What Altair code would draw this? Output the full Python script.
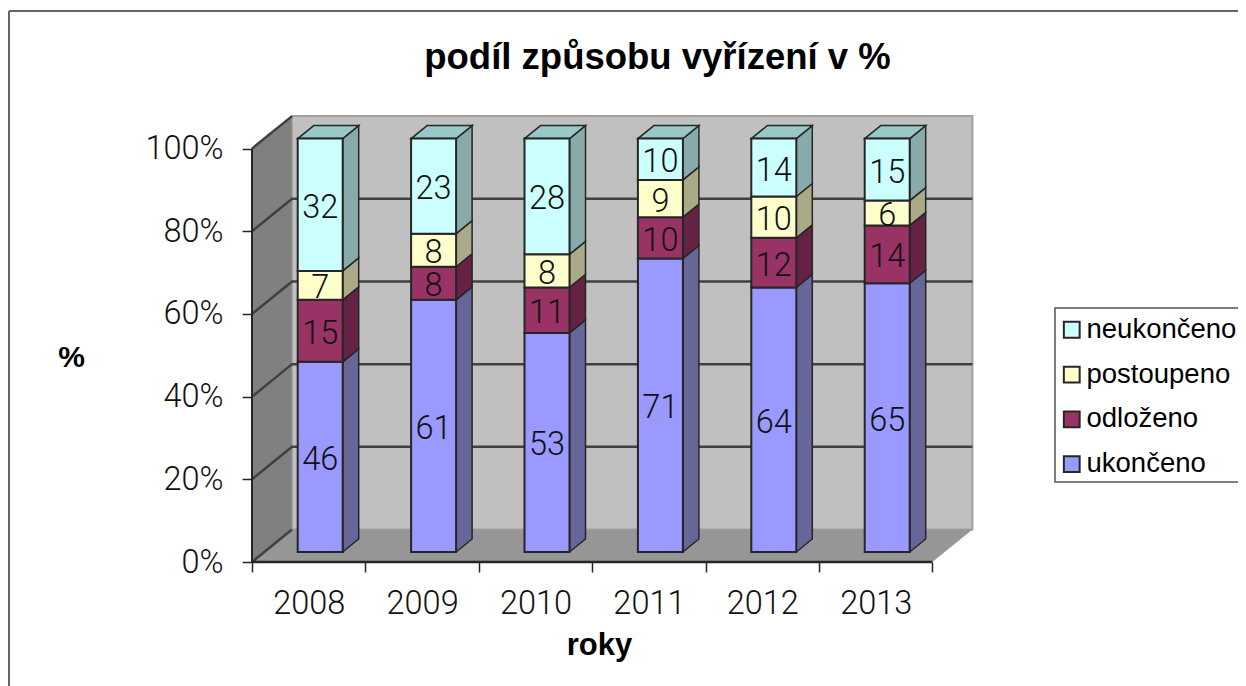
import altair as alt
import pandas as pd

years = ["2008", "2009", "2010", "2011", "2012", "2013"]
series = ["ukončeno", "odloženo", "postoupeno", "neukončeno"]
ukonceno = [46, 61, 53, 71, 64, 65]
odlozeno = [15, 8, 11, 10, 12, 14]
postoupeno = [7, 8, 8, 9, 10, 6]
neukonceno = [32, 23, 28, 10, 14, 15]
front_colors = ["#9999FF", "#993366", "#FFFFCC", "#CCFFFF"]
side_colors = ["#666699", "#662244", "#AAAA88", "#88AAAA"]
top_colors = ["#99C8C8"]
y_ticks = [0, 20, 40, 60, 80, 100]

PXX = 113.4      # px per category
PXY = 4.134      # px per percent
W, H = 721, 446
wall_dx, wall_dy = 40 / PXX, 32.5 / PXY
bar_x0, bar_w = 45.7 / PXX, 45 / PXX
bar_dx, bar_dy = 16 / PXX, 13 / PXY
bar_base = 10 / PXY
n = len(years)
FONT = "Roboto"
LINE = "#262626"

xs = alt.Scale(domain=[0, W / PXX], nice=False, zero=False)
ys = alt.Scale(domain=[0, H / PXY], nice=False, zero=False)

year_expr = "[" + ",".join(f"'{y}'" for y in years) + ",''][datum.value]"
x_axis = alt.Axis(
    values=list(range(n + 1)), labelExpr=year_expr, labelOffset=PXX / 2, labelFlush=False,
    labelOverlap=False, labelFont=FONT, labelFontWeight=300, labelFontSize=32.5, labelColor="#111111",
    labelPadding=15, tickSize=10, tickColor=LINE, tickWidth=1.5, domain=False, grid=False,
    titleFont="Liberation Sans", titleFontWeight="bold", titleFontSize=31, titleColor="black",
    titleX=347, titleY=92, titleBaseline="alphabetic")
y_axis = alt.Axis(
    values=y_ticks, labelExpr="datum.value + '%'", labelFont=FONT, labelFontWeight=300,
    labelFontSize=32.5, labelColor="#111111", labelPadding=19, tickSize=10, tickColor=LINE,
    tickWidth=1.5, domain=False, grid=False, labelBaseline="middle",
    titleFont="Liberation Sans", titleFontWeight="bold", titleFontSize=30, titleColor="black",
    titleAngle=0, titleX=-181, titleY=256, titleAlign="center")
X = lambda f="x": alt.X(f"{f}:Q", scale=xs, axis=x_axis, title="roky")
Y = lambda f="y": alt.Y(f"{f}:Q", scale=ys, axis=y_axis, title="%")

front, side, top, labels = [], [], [], []
for i, yr in enumerate(years):
    lo = 0
    L = i + bar_x0
    R = L + bar_w
    for s, vals, sc in zip(series, [ukonceno, odlozeno, postoupeno, neukonceno], side_colors):
        v = vals[i]
        hi = lo + v
        front.append(dict(x=L, x2=R, y=bar_base + lo, y2=bar_base + hi, s=s))
        labels.append(dict(x=(L + R) / 2, y=bar_base + (lo + hi) / 2, t=str(v)))
        bid = f"{yr}-{s}"
        side.append(dict(id=bid, c=sc, x=R, y=bar_base + lo, y2=bar_base + hi))
        side.append(dict(id=bid, c=sc, x=R + bar_dx, y=bar_base + lo + bar_dy, y2=bar_base + hi + bar_dy))
        lo = hi
    top.append(dict(id=yr, y=bar_base + lo, x=L, x2=R))
    top.append(dict(id=yr, y=bar_base + lo + bar_dy, x=L + bar_dx, x2=R + bar_dx))

# walls and floor
back = alt.Chart(pd.DataFrame([dict(x=wall_dx, x2=n + wall_dx, y=wall_dy, y2=100 + wall_dy)])).mark_rect(
    fill="#C0C0C0", stroke="#A0A0A0", strokeWidth=2).encode(x=X(), x2="x2:Q", y=Y(), y2="y2:Q")
left = alt.Chart(pd.DataFrame([dict(x=0, y=0, y2=100), dict(x=wall_dx, y=wall_dy, y2=100 + wall_dy)])).mark_area(
    fill="#808080", stroke="#A0A0A0", strokeWidth=1).encode(x=X(), y=Y(), y2="y2:Q")
floor = alt.Chart(pd.DataFrame([dict(y=0, x=0, x2=n), dict(y=wall_dy, x=wall_dx, x2=n + wall_dx)])).mark_area(
    orient="horizontal", fill="#969696").encode(y=Y(), x=X(), x2="x2:Q")

# gridlines
g = []
for v in y_ticks:
    g.append(dict(id=f"d{v}", x=0, y=v))
    g.append(dict(id=f"d{v}", x=wall_dx, y=v + wall_dy))
    if 0 < v < 100:
        g.append(dict(id=f"d{v}", x=n + wall_dx, y=v + wall_dy))
grid = alt.Chart(pd.DataFrame(g)).mark_line(color="#404040", strokeWidth=2.5).encode(
    x=X(), y=Y(), detail="id:N")

axis_line = alt.Chart(pd.DataFrame([dict(x=0, y=0), dict(x=0, y=100)])).mark_line(
    color=LINE, strokeWidth=2).encode(x=X(), y=Y())
x_line = alt.Chart(pd.DataFrame([dict(x=0, y=0), dict(x=n, y=0)])).mark_line(
    color=LINE, strokeWidth=2.5).encode(x=X(), y=Y())

# bars
side_l = alt.Chart(pd.DataFrame(side)).mark_area(stroke=LINE, strokeWidth=1.5).encode(
    x=X(), y=Y(), y2="y2:Q", detail="id:N", fill=alt.Fill("c:N", scale=None))
top_l = alt.Chart(pd.DataFrame(top)).mark_area(
    orient="horizontal", fill=top_colors[0], stroke=LINE, strokeWidth=1.5).encode(
    y=Y(), x=X(), x2="x2:Q", detail="id:N")
front_l = alt.Chart(pd.DataFrame(front)).mark_rect(stroke=LINE, strokeWidth=2).encode(
    x=X(), x2="x2:Q", y=Y(), y2="y2:Q",
    fill=alt.Fill("s:N", title=None, scale=alt.Scale(domain=series[::-1], range=front_colors[::-1]),
                  legend=alt.Legend(
                      orient="none", legendX=806, legendY=200, title=None, padding=0,
                      symbolType="square", symbolSize=250, symbolStrokeColor="black", symbolStrokeWidth=2,
                      labelFont="Liberation Sans", labelFontSize=27.5, labelColor="black", labelLimit=300,
                      labelOffset=1, rowPadding=15.8)),
)
text_l = alt.Chart(pd.DataFrame(labels)).mark_text(
    font=FONT, fontWeight=300, fontSize=32.5, color="#111111", baseline="middle", dy=3).encode(
    x=X(), y=Y(), text="t:N")

# chart frame and legend box
frame_df = pd.DataFrame([dict(k=1)])
frame_v = alt.Chart(frame_df).mark_rule(color="#666666", strokeWidth=2).encode(
    x=alt.value(-243), y=alt.value(-105), y2=alt.value(570))
frame_h = alt.Chart(frame_df).mark_rule(color="#666666", strokeWidth=2).encode(
    x=alt.value(-243), x2=alt.value(994), y=alt.value(-105))
legend_box = alt.Chart(frame_df).mark_rect(fill="white", stroke="#555555", strokeWidth=1.5).encode(
    x=alt.value(803), x2=alt.value(1000), y=alt.value(192), y2=alt.value(366))

chart = alt.layer(
    frame_v, frame_h, legend_box, back, left, floor, grid, axis_line, x_line, side_l, top_l, front_l, text_l
).properties(
    width=W, height=H,
    title=alt.TitleParams("podíl způsobu vyřízení v %", font="Liberation Sans", fontSize=36.5, fontWeight="bold",
                          color="black", anchor="middle", dx=45, offset=-66),
    padding={"left": 244, "top": 108, "right": 265, "bottom": 124},
    autosize=alt.AutoSizeParams(type="none"),
).configure_view(stroke=None)

chart.save("out.html", embed_options={"renderer": "svg", "actions": False})
